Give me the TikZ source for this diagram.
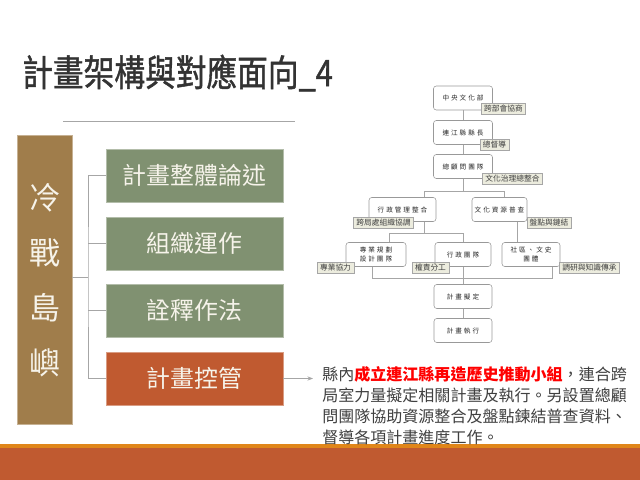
\documentclass[tikz,border=0pt]{standalone}
\usepackage{fontspec}
\setmainfont{Noto Sans CJK TC}
\newfontfamily\orgfont[LetterSpace=30]{Noto Sans CJK TC}
\newfontfamily\titlefont[FakeBold=1.3]{Noto Sans CJK TC}
\usetikzlibrary{calc, arrows.meta}

\definecolor{pillarbrown}{RGB}{160,125,75}
\definecolor{topicgreen}{RGB}{128,145,113}
\definecolor{topicrust}{RGB}{192,90,48}
\definecolor{bandorange}{RGB}{224,134,26}
\definecolor{tagfill}{RGB}{236,236,222}
\definecolor{inkgray}{RGB}{64,64,64}
\definecolor{lightink}{RGB}{246,243,234}

\tikzset{
    pillar/.style={rectangle, fill=pillarbrown, draw=pillarbrown!60!white,
    minimum width=1.375cm, minimum height=7.225cm},
    topic/.style={rectangle, fill=topicgreen, draw=topicgreen!60!white,
    minimum width=4.425cm, minimum height=1.325cm, text=lightink,
    font=\fontsize{17}{20}\selectfont},
    orgbox/.style={rectangle, rounded corners=2pt, draw=gray!80, fill=white,
    minimum height=0.6cm, inner sep=1pt, align=center, text=black!85,
    font=\orgfont\fontsize{4.7}{7}\selectfont},
    tag/.style={rectangle, draw=gray!70, fill=tagfill, inner xsep=2pt, inner ysep=0pt,
    minimum height=0.28cm, text=inkgray, font=\fontsize{5.5}{6}\selectfont},
    link/.style={draw=gray!70, line width=0.5pt}
}

\begin{document}
\begin{tikzpicture}[x=0.025cm, y=-0.025cm]
    \useasboundingbox [fill=white] (0, 0) rectangle (640, 480);
	\fill [bandorange] (0, 443.5) rectangle (640, 447.5);
	\fill [topicrust] (0, 447.5) rectangle (640, 480);

	\node (Title) at (22, 73) [anchor=west, xscale=.84, inner sep=0pt, text=black!80,
    font=\titlefont\fontsize{26}{30}\selectfont] {計畫架構與對應面向\_4};
	\draw [gray!70] (63, 121) -- (295, 121);

	\node (Isle) at (44.5, 279.5) [pillar] {};
	\node (IsleName) at ($(Isle) + (0, 1)$) [align=center, text=lightink,
    font=\fontsize{22}{39}\selectfont] {冷\\戰\\島\\嶼};
	\node (T1) at (194.5, 175.5) [topic] {計畫整體論述};
	\node (T2) at (194.5, 243.5) [topic] {組織運作};
	\node (T3) at (194.5, 310.5) [topic] {詮釋作法};
	\node (T4) at (194.5, 378.5) [topic, fill=topicrust, draw=topicrust!60!white] {計畫控管};

	\coordinate (Hub) at (88, 277);
	\draw [link] (Isle.east |- Hub) -- (Hub);
	\draw [link] (T1.west) -| (Hub) |- (T4.west);
	\draw [link] (T2.west) -- (T2.west -| Hub);
	\draw [link] (T3.west) -- (T3.west -| Hub);

	\coordinate (Note) at (313, 378.5);
	\draw [link, -{Stealth[length=4pt, width=3pt]}] (T4.east) -- (Note);
	\node (Text) at (322, 366) [anchor=north west, inner sep=0pt, align=left, text=inkgray,
    font=\fontsize{11.4}{15}\selectfont]
    {縣內\textcolor{red}{\bfseries 成立連江縣再造歷史推動小組}，連合跨\\
    局室力量擬定相關計畫及執行。另設置總顧\\
    問團隊協助資源整合及盤點鍊結普查資料、\\
    督導各項計畫進度工作。};

	\node (Cent) at (463, 98) [orgbox, minimum width=1.475cm] {中央文化部};
	\node (Gov) at (463, 132.5) [orgbox, minimum width=1.475cm] {連江縣縣長};
	\node (Team) at (463, 166.5) [orgbox, minimum width=1.475cm] {總顧問團隊};
	\node (Adm) at (402.5, 209.5) [orgbox, minimum width=1.675cm] {行政管理整合};
	\node (Res) at (499.5, 209.5) [orgbox, minimum width=1.375cm] {文化資源普查};
	\node (Plan) at (376, 254.5) [orgbox, minimum width=1.5cm] {專業規劃\\設計團隊};
	\node (Staff) at (463, 254.5) [orgbox, minimum width=1.4cm] {行政團隊};
	\node (Comm) at (531, 254.5) [orgbox, minimum width=1.45cm] {社區、文史\\團體};
	\node (Draft) at (463, 296.5) [orgbox, minimum width=1.45cm] {計畫擬定};
	\node (Run) at (463, 330.5) [orgbox, minimum width=1.45cm] {計畫執行};

	\draw [link] (Cent) -- (Gov);
	\draw [link] (Gov) -- (Team);
	\coordinate (AdmUp) at (424, 191);
	\coordinate (ResUp) at (504, 191);
	\draw [link] (Team) -- (Team |- AdmUp);
	\draw [link] (AdmUp) -- (ResUp);
	\draw [link] (AdmUp) -- (AdmUp |- Adm.north);
	\draw [link] (ResUp) -- (ResUp |- Res.north);

	\coordinate (PlanUp) at (389, 233);
	\coordinate (StaffUp) at (463, 233);
	\draw [link] (PlanUp -| AdmUp) -- (AdmUp |- Adm.south);
	\draw [link] (PlanUp) -- (StaffUp) -- (Staff.north);
	\draw [link] (PlanUp) -- (PlanUp |- Plan.north);
	\coordinate (CommUp) at (517, 233);
	\draw [link] (CommUp |- Res.south) -- (CommUp |- Comm.north);

	\coordinate (JoinL) at (372, 278);
	\coordinate (JoinR) at (552, 278);
	\draw [link] (JoinL |- Plan.south) -- (JoinL) -- (JoinR) -- (JoinR |- Comm.south);
	\draw [link] (Staff) -- (Draft);
	\draw [link] (Draft) -- (Run);

	\node (TagA) at (503.5, 109) [tag] {跨部會協商};
	\node (TagB) at (494.5, 144.5) [tag] {總督導};
	\node (TagC) at (512.5, 179) [tag] {文化治理總整合};
	\node (TagD) at (383.5, 223) [tag] {跨局處組織協調};
	\node (TagE) at (549, 222.5) [tag] {盤點與鏈結};
	\node (TagF) at (335.5, 268) [tag] {專業協力};
	\node (TagG) at (430.5, 268) [tag] {權責分工};
	\node (TagH) at (589.5, 268) [tag] {調研與知識傳承};
\end{tikzpicture}
\end{document}
